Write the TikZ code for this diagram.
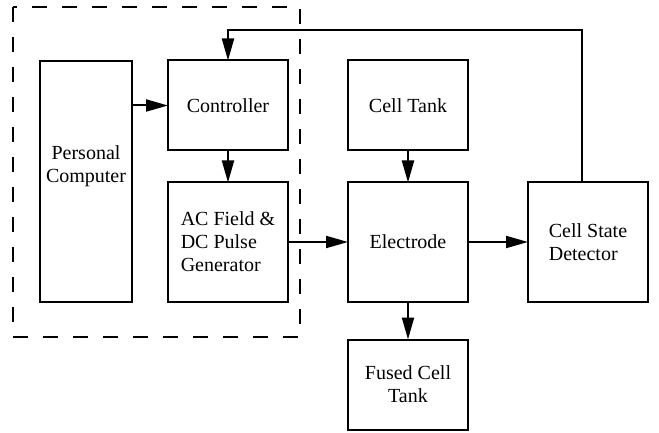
\documentclass[tikz,border=0pt]{standalone}
\usepackage{fontspec}
\setmainfont{Liberation Serif}
\usetikzlibrary{arrows.meta, positioning}

\begin{document}
\begin{tikzpicture}[
    x=0.5pt, y=-0.5pt,
    node distance=16pt and 30pt,
    font=\rmfamily\fontsize{10}{11.5}\selectfont,
    line width=1pt,
    >={Triangle[length=11pt, width=6pt]},
    block/.style={rectangle, draw, outer sep=0pt, minimum width=60pt, minimum height=#1, align=center, inner sep=2pt},
    block/.default=45pt,
    arrow/.style={->},
    frame/.style={dash pattern=on 7.5pt off 7.5pt},
]
    \useasboundingbox (0,0) rectangle (659,433);

    % Control side
    \node[block] (ctrl) at (228,105.5) {Controller};
    \node[block=59.5pt, below=of ctrl, align=left] (gen) {AC Field \&\\DC Pulse\\Generator};
    \node[block=120.5pt, minimum width=46pt] (pc) at (86,181.5) {Personal\\Computer\\[6pt]};

    % Cell side
    \node[block, right=of ctrl] (tank) {Cell Tank};
    \node[block=59.5pt, below=of tank] (elec) {Electrode};
    \node[block=59.5pt, right=of elec, align=left] (det) {Cell State\\Detector};
    \node[block, below=19pt of elec] (fused) {Fused Cell\\Tank};

    % Frame round the PC part
    \draw[frame] (13,7) rectangle (300,337);

    % Connections
    \coordinate (fb) at (0,30);
    \draw[arrow] (pc.east |- ctrl.west) -- (ctrl.west);
    \draw[arrow] (ctrl) -- (gen);
    \draw[arrow] (gen) -- (elec);
    \draw[arrow] (tank) -- (elec);
    \draw[arrow] (elec) -- (det);
    \draw[arrow] (elec) -- (fused);
    \draw[arrow] ([xshift=-3pt]det.north) -- ([xshift=-3pt]det.north |- fb) -| (ctrl.north);

\end{tikzpicture}
\end{document}
